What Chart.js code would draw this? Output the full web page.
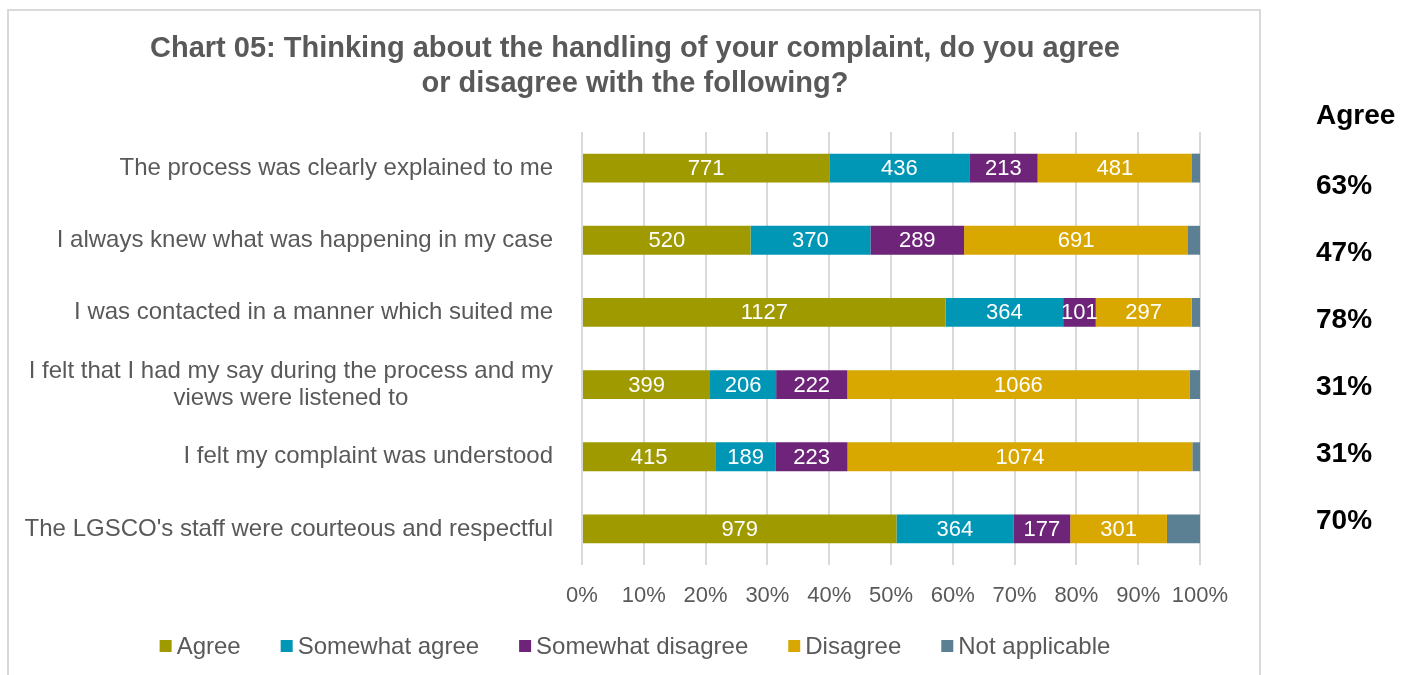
<!DOCTYPE html>
<html>
<head>
<meta charset="utf-8">
<title>Chart 05</title>
<script src="https://cdn.jsdelivr.net/npm/chart.js@4.4.1/dist/chart.umd.min.js"></script>
<style>
  html, body { margin: 0; padding: 0; background: #ffffff; }
  #wrap { position: relative; width: 1402px; height: 675px; overflow: hidden; }
  canvas { display: block; }
</style>
</head>
<body>
<div id="wrap"><canvas id="chart" width="1402" height="675"></canvas></div>
<script>
// Survey statements (row 4 wraps over two lines)
const categories = [
  ['The process was clearly explained to me'],
  ['I always knew what was happening in my case'],
  ['I was contacted in a manner which suited me'],
  ['I felt that I had my say during the process and my', 'views were listened to'],
  ['I felt my complaint was understood'],
  ["The LGSCO's staff were courteous and respectful"]
];

// Response counts per statement
const agree            = [771, 520, 1127, 399, 415, 979];
const somewhatAgree    = [436, 370, 364, 206, 189, 364];
const somewhatDisagree = [213, 289, 101, 222, 223, 177];
const disagree         = [481, 691, 297, 1066, 1074, 301];
const notApplicable    = [25, 37, 26, 33, 24, 103];

const seriesNames = ['Agree', 'Somewhat agree', 'Somewhat disagree', 'Disagree', 'Not applicable'];
const seriesColors = ['#9f9a00', '#0096b6', '#6d2479', '#d9a800', '#5b7f93'];
const xTickValues = [0, 10, 20, 30, 40, 50, 60, 70, 80, 90, 100];

const chartTitle = ['Chart 05: Thinking about the handling of your complaint, do you agree',
                    'or disagree with the following?'];
const sideHeading = 'Agree';

const FONT = '"Liberation Sans", Arial, Helvetica, sans-serif';
const GREY = '#595959';

const seriesCounts = [agree, somewhatAgree, somewhatDisagree, disagree, notApplicable];
const totals = categories.map((_, i) => seriesCounts.reduce((s, arr) => s + arr[i], 0));
const toShare = arr => arr.map((v, i) => v / totals[i] * 100);
// Share who agree at all (agree + somewhat agree)
const agreeShare = categories.map((_, i) => Math.round((agree[i] + somewhatAgree[i]) / totals[i] * 100));

const datasets = seriesCounts.map((arr, k) => ({
  label: seriesNames[k],
  data: toShare(arr),
  counts: arr,
  showCount: k < 4,
  backgroundColor: seriesColors[k],
  borderWidth: 0,
  categoryPercentage: 1.0,
  barPercentage: 0.4
}));

// Frame, title, statement labels, count labels, legend and the side column
const decorations = {
  id: 'decorations',
  beforeDraw(chart) {
    const ctx = chart.ctx;
    ctx.save();
    ctx.strokeStyle = '#d9d9d9';
    ctx.lineWidth = 2;
    ctx.strokeRect(8, 10, 1252, 700);
    ctx.restore();
  },
  afterDatasetsDraw(chart) {
    const ctx = chart.ctx;
    ctx.save();
    ctx.font = '22px ' + FONT;
    ctx.fillStyle = '#ffffff';
    ctx.textAlign = 'center';
    ctx.textBaseline = 'middle';
    chart.data.datasets.forEach((ds, k) => {
      if (!ds.showCount) return;
      chart.getDatasetMeta(k).data.forEach((el, i) => {
        const cx = (el.x + el.base) / 2;
        ctx.fillText(String(ds.counts[i]), cx, el.y + 1);
      });
    });
    ctx.restore();
  },
  afterDraw(chart) {
    const ctx = chart.ctx;
    const area = chart.chartArea;
    const yScale = chart.scales.y;
    ctx.save();

    // title
    ctx.fillStyle = GREY;
    ctx.font = 'bold 29px ' + FONT;
    ctx.textAlign = 'center';
    ctx.textBaseline = 'middle';
    chartTitle.forEach((line, i) => ctx.fillText(line, 635, 49 + i * 35));

    // statement labels: block right-aligned, lines centred on each other
    ctx.font = '24px ' + FONT;
    const labelRight = area.left - 29;
    const lineH = 27;
    categories.forEach((lines, i) => {
      const cy = yScale.getPixelForValue(i);
      const widest = Math.max(...lines.map(l => ctx.measureText(l).width));
      const cx = labelRight - widest / 2;
      lines.forEach((l, j) => {
        const y = cy + (j - (lines.length - 1) / 2) * lineH;
        ctx.fillText(l, cx, y);
      });
    });

    // legend
    const box = 12, gapText = 5, gapItem = 40;
    ctx.font = '24px ' + FONT;
    const widths = seriesNames.map(n => box + gapText + ctx.measureText(n).width);
    const total = widths.reduce((a, b) => a + b, 0) + gapItem * (seriesNames.length - 1);
    let x = 635 - total / 2;
    const ly = 646;
    ctx.textAlign = 'left';
    seriesNames.forEach((n, k) => {
      ctx.fillStyle = seriesColors[k];
      ctx.fillRect(x, ly - box / 2, box, box);
      ctx.fillStyle = GREY;
      ctx.fillText(n, x + box + gapText, ly + 1);
      x += widths[k] + gapItem;
    });

    // side column of agreement shares
    ctx.fillStyle = '#000000';
    ctx.font = 'bold 28px ' + FONT;
    ctx.textAlign = 'left';
    ctx.fillText(sideHeading, 1316, 116);
    agreeShare.forEach((p, i) => ctx.fillText(p + '%', 1316, 186 + i * 67));

    ctx.restore();
  }
};

new Chart(document.getElementById('chart'), {
  type: 'bar',
  data: { labels: categories, datasets },
  plugins: [decorations],
  options: {
    indexAxis: 'y',
    responsive: false,
    animation: false,
    devicePixelRatio: 1,
    layout: { padding: { top: 132, right: 202, bottom: 50, left: 0 } },
    plugins: {
      legend: { display: false },
      title: { display: false },
      tooltip: { enabled: false }
    },
    scales: {
      x: {
        stacked: true,
        min: 0,
        max: 100,
        afterBuildTicks: s => { s.ticks = xTickValues.map(v => ({ value: v })); },
        afterFit: s => { s.height = 60; },
        ticks: {
          callback: v => v + '%',
          color: GREY,
          font: { family: FONT, size: 22 },
          padding: 18,
          maxRotation: 0,
          autoSkip: false
        },
        grid: { color: '#d9d9d9', lineWidth: 2, drawTicks: false },
        border: { display: false }
      },
      y: {
        stacked: true,
        afterFit: s => { s.width = 582; },
        ticks: { display: false },
        grid: { display: false },
        border: { display: false }
      }
    }
  }
});
</script>
</body>
</html>
